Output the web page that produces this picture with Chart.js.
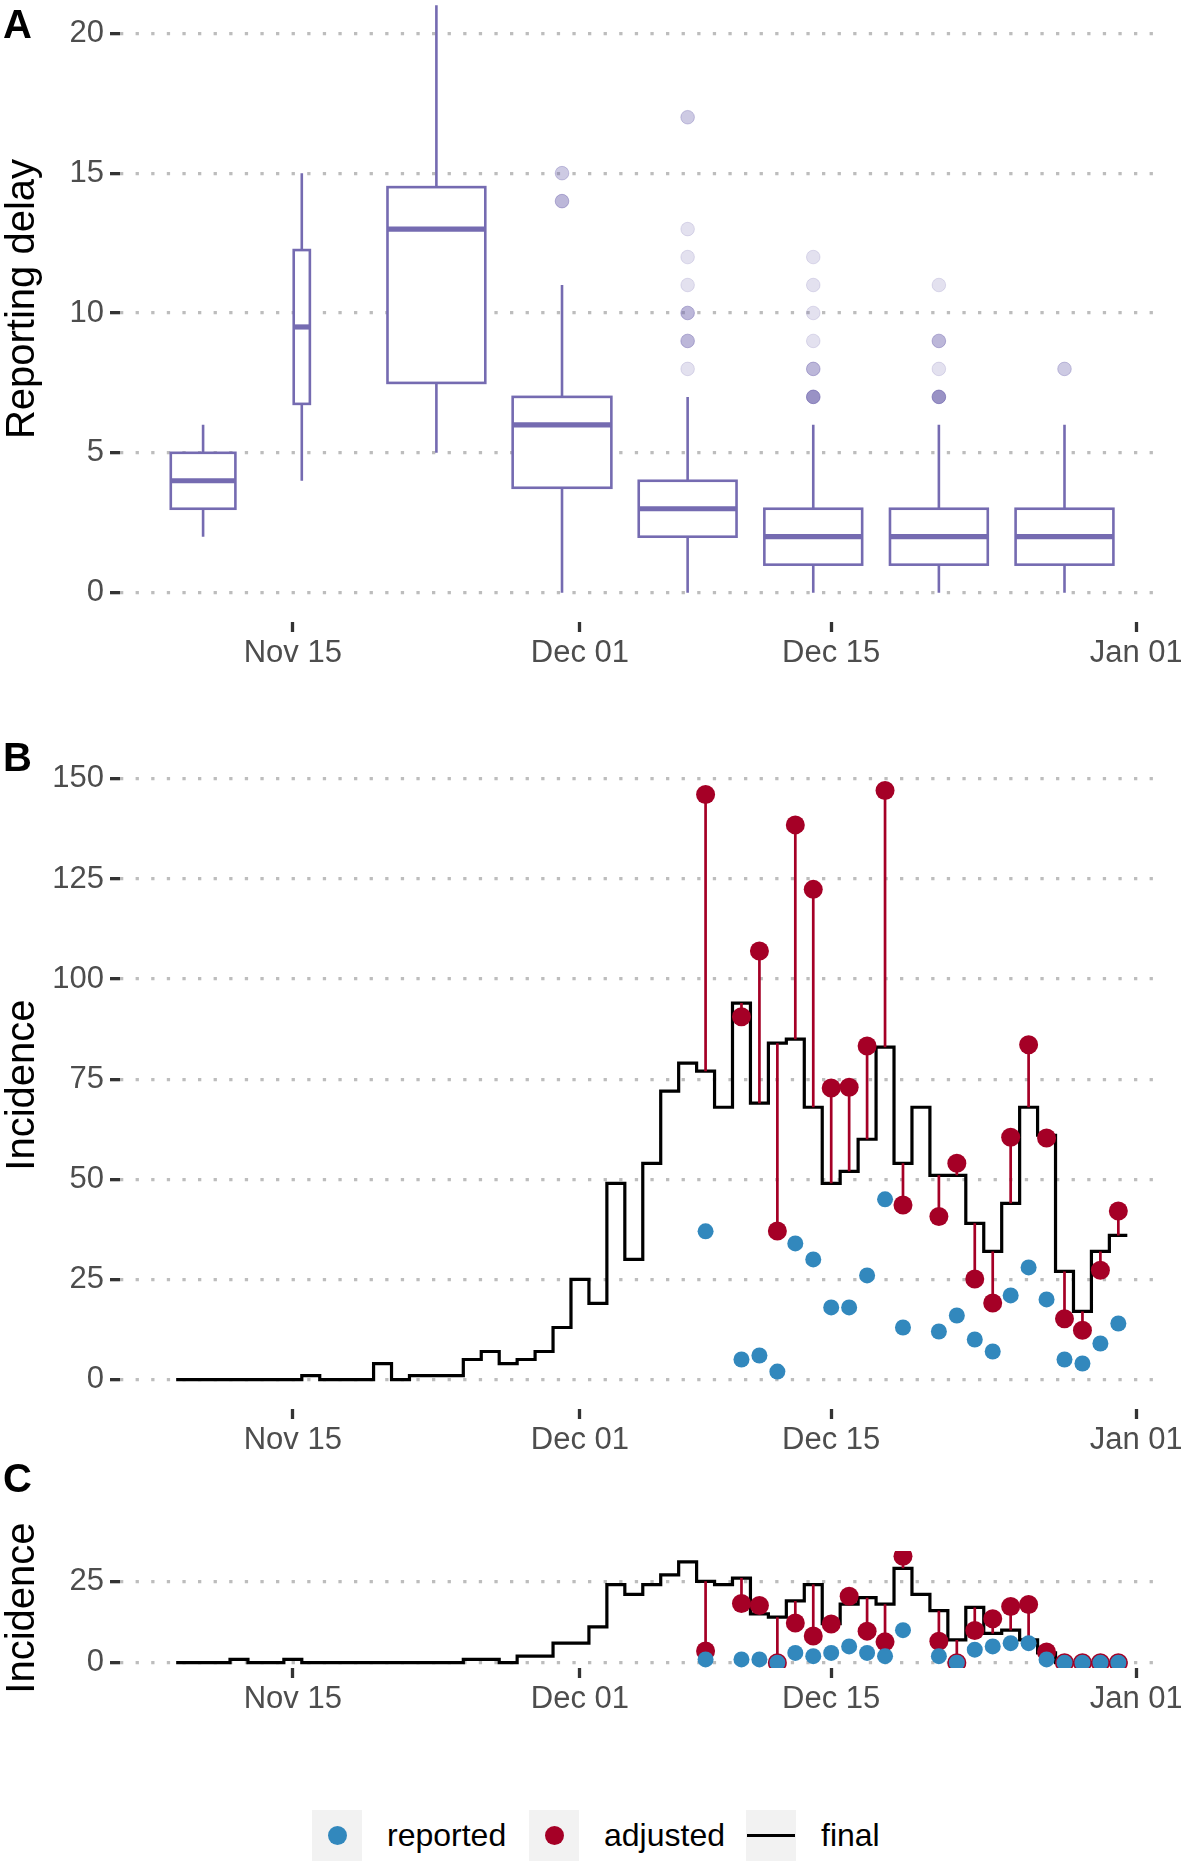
<!DOCTYPE html>
<html>
<head>
<meta charset="utf-8">
<script src="https://cdn.jsdelivr.net/npm/chart.js@4.4.1/dist/chart.umd.min.js"></script>
<style>
html, body { margin: 0; padding: 0; background: #fff; }
#page { position: relative; width: 1181px; height: 1863px; overflow: hidden; font-family: "Liberation Sans", Arial, sans-serif; }
canvas { position: absolute; left: 0; }
.tag { position: absolute; left: 3px; font-size: 40px; font-weight: bold; line-height: 40px; color: #000; }
.ytitle { position: absolute; left: -180px; width: 400px; height: 40px; line-height: 40px; text-align: center; font-size: 40px; color: #000; transform: rotate(-90deg); white-space: nowrap; }
.legend { position: absolute; top: 1810px; left: 0; width: 1181px; height: 51px; }
.key { position: absolute; top: 0; width: 50px; height: 51px; background: #f2f2f2; }
.dot { position: absolute; left: 15.5px; top: 16px; width: 19px; height: 19px; border-radius: 50%; }
.bar { position: absolute; left: 1px; top: 24px; width: 48px; height: 3.2px; background: #000; }
.lbl { position: absolute; top: 0; line-height: 51px; font-size: 32px; color: #000; }
</style>
</head>
<body>
<div id="page">
  <canvas id="chartA" width="1181" height="706" style="top:-24px"></canvas>
  <canvas id="chartB" width="1181" height="708" style="top:761px"></canvas>
  <canvas id="chartC" width="1181" height="177" style="top:1551px"></canvas>
  <div class="tag" style="top:4px">A</div>
  <div class="tag" style="top:737px">B</div>
  <div class="tag" style="top:1458px">C</div>
  <div class="ytitle" style="top:279px">Reporting delay</div>
  <div class="ytitle" style="top:1065px">Incidence</div>
  <div class="ytitle" style="top:1588px">Incidence</div>
  <div class="legend">
    <div class="key" style="left:312px"><div class="dot" style="background:#3288bd"></div></div>
    <div class="lbl" style="left:387px">reported</div>
    <div class="key" style="left:529px"><div class="dot" style="background:#a50026"></div></div>
    <div class="lbl" style="left:604px">adjusted</div>
    <div class="key" style="left:746px"><div class="bar"></div></div>
    <div class="lbl" style="left:821px">final</div>
  </div>
</div>
<script>
// x axis: days counted from Nov 01 (day 0)
const tickDays = [14, 30, 44, 61];
const tickLabels = ['Nov 15', 'Dec 01', 'Dec 15', 'Jan 01'];

// A: reporting delay boxplots
const boxDays = [9, 14.5, 22, 29, 36, 43, 50, 57];
const boxWidths = [3.6, 0.9, 5.45, 5.5, 5.45, 5.45, 5.45, 5.45];
const boxLow = [2, 4, 5, 0, 0, 0, 0, 0];
const boxQ1 = [3, 6.75, 7.5, 3.75, 2, 1, 1, 1];
const boxMid = [4, 9.5, 13, 6, 3, 2, 2, 2];
const boxQ3 = [5, 12.25, 14.5, 7, 4, 3, 3, 3];
const boxHigh = [6, 15, 21, 11, 7, 6, 6, 6];
const outlierDays = [29, 29, 36, 36, 36, 36, 36, 36, 36, 43, 43, 43, 43, 43, 43, 50, 50, 50, 50, 57];
const outlierDelays = [15, 14, 17, 13, 12, 11, 10, 9, 8, 12, 11, 10, 9, 8, 7, 11, 9, 8, 7, 8];
const outlierCounts = [2, 3, 2, 1, 1, 1, 3, 3, 1, 1, 1, 1, 1, 3, 6, 1, 3, 1, 6, 2];

// B and C: daily incidence
const days = [8, 9, 10, 11, 12, 13, 14, 15, 16, 17, 18, 19, 20, 21, 22, 23, 24, 25, 26, 27, 28, 29, 30,
  31, 32, 33, 34, 35, 36, 37, 38, 39, 40, 41, 42, 43, 44, 45, 46, 47, 48, 49, 50, 51, 52, 53, 54, 55,
  56, 57, 58, 59, 60];
const finalB = [0, 0, 0, 0, 0, 0, 0, 1, 0, 0, 0, 4, 0, 1, 1, 1, 5, 7, 4, 5, 7, 13, 25,
  19, 49, 30, 54, 72, 79, 77, 68, 94, 69, 84, 85, 68, 49, 52, 60, 83, 54, 68, 51, 51, 39, 32, 44, 68,
  61, 27, 17, 32, 36];
const finalC = [0, 0, 0, 1, 0, 0, 1, 0, 0, 0, 0, 0, 0, 0, 0, 0, 1, 1, 0, 2, 2, 6, 6,
  11, 24, 21, 24, 27, 31, 25, 24, 26, 15, 14, 19, 24, 12, 18, 20, 18, 29, 21, 16, 7, 17, 9, 10, 7,
  3, 0, 0, 0, 0];
const obsDays = [37, 39, 40, 41, 42, 43, 44, 45, 46, 47, 48, 50, 51, 52, 53, 54, 55, 56, 57, 58, 59, 60];
const reportedB = [37, 5, 6, 2, 34, 30, 18, 18, 26, 45, 13, 12, 16, 10, 7, 21, 28, 20, 5, 4, 9, 14];
const adjustedB = [146.1, 90.6, 107, 37.1, 138.5, 122.4, 72.8, 73, 83.3, 147.1, 43.6, 40.7, 54, 25.1, 19.1, 60.5, 83.6, 60.3, 15.2, 12.3, 27.3, 42.1];
const reportedC = [1, 1, 1, 0, 3, 2, 3, 5, 3, 2, 10, 2, 0, 4, 5, 6, 6, 1, 0, 0, 0, 0];
const adjustedC = [3.6, 18.2, 17.6, 0, 12.2, 8.2, 11.9, 20.4, 9.7, 6.4, 32.7, 6.6, 0, 9.9, 13.5, 17.3, 17.9, 3.3, 0, 0, 0, 0];

const FONT = "'Liberation Sans', Arial, sans-serif";
const PURPLE = '#756bb1';
const BLUE = '#3288bd';
const RED = '#a50026';
Chart.defaults.font.family = FONT;

function expand(vals) {
  const lo = Math.min(...vals), hi = Math.max(...vals);
  const pad = (hi - lo) * 0.05;
  return [lo - pad, hi + pad];
}

function xScale() {
  return {
    type: 'linear', min: 4.37, max: 62.6, offset: false,
    afterBuildTicks: s => { s.ticks = tickDays.map(v => ({ value: v })); },
    afterFit: s => { s.height = 60; s.paddingLeft = 0; s.paddingRight = 0; },
    ticks: {
      callback: v => tickLabels[tickDays.indexOf(v)],
      font: { size: 31, lineHeight: 1 }, color: '#4d4d4d', padding: 6,
      maxRotation: 0, autoSkip: false
    },
    grid: { drawOnChartArea: false, tickLength: 10, tickColor: '#333', tickWidth: 3.3, tickBorderDash: [], offset: false },
    border: { display: false }
  };
}

function yScale(range, ticks) {
  return {
    type: 'linear', min: range[0], max: range[1],
    afterBuildTicks: s => { s.ticks = ticks.map(v => ({ value: v })); },
    afterFit: s => { s.width = 120; s.paddingTop = 0; s.paddingBottom = 0; },
    ticks: { font: { size: 31 }, color: '#4d4d4d', padding: 6 },
    grid: { color: '#bdbdbd', lineWidth: 3.3, tickLength: 10, tickColor: '#333', tickWidth: 3.3, tickBorderDash: [] },
    border: { display: false, dash: [3.3, 12.3] }
  };
}

function baseOptions(yRange, yTicks) {
  return {
    responsive: false, animation: false,
    layout: { autoPadding: false, padding: { left: 0, right: 16, top: 0, bottom: 0 } },
    plugins: { legend: { display: false }, tooltip: { enabled: false } },
    scales: { x: xScale(), y: yScale(yRange, yTicks) }
  };
}

// boxplots drawn with the chart's own scales
const boxPlugin = {
  id: 'boxes',
  beforeDatasetsDraw(chart) {
    const { ctx, chartArea: a, scales: { x, y } } = chart;
    ctx.save();
    ctx.beginPath();
    ctx.rect(a.left, a.top, a.width, a.height);
    ctx.clip();
    ctx.strokeStyle = PURPLE;
    boxDays.forEach((d, i) => {
      const xc = x.getPixelForValue(d);
      const x0 = x.getPixelForValue(d - boxWidths[i] / 2);
      const x1 = x.getPixelForValue(d + boxWidths[i] / 2);
      const yLo = y.getPixelForValue(boxLow[i]);
      const yQ1 = y.getPixelForValue(boxQ1[i]);
      const yMd = y.getPixelForValue(boxMid[i]);
      const yQ3 = y.getPixelForValue(boxQ3[i]);
      const yHi = y.getPixelForValue(boxHigh[i]);
      ctx.lineWidth = 2.6;
      ctx.beginPath();
      ctx.moveTo(xc, yQ3); ctx.lineTo(xc, yHi);
      ctx.moveTo(xc, yQ1); ctx.lineTo(xc, yLo);
      ctx.stroke();
      ctx.fillStyle = '#fff';
      ctx.fillRect(x0, yQ3, x1 - x0, yQ1 - yQ3);
      ctx.strokeRect(x0, yQ3, x1 - x0, yQ1 - yQ3);
      ctx.lineWidth = 5.2;
      ctx.beginPath();
      ctx.moveTo(x0, yMd); ctx.lineTo(x1, yMd);
      ctx.stroke();
    });
    ctx.restore();
  }
};

const outlierColors = outlierCounts.map(n => 'rgba(117,107,177,' + (1 - Math.pow(0.8, n)).toFixed(3) + ')');

new Chart(document.getElementById('chartA'), {
  type: 'scatter',
  data: {
    datasets: [{
      data: outlierDays.map((d, i) => ({ x: d, y: outlierDelays[i] })),
      pointRadius: 6.8,
      pointBackgroundColor: outlierColors,
      pointBorderColor: outlierColors,
      pointBorderWidth: 1
    }]
  },
  options: baseOptions(expand(boxLow.concat(boxHigh)), [0, 5, 10, 15, 20]),
  plugins: [boxPlugin]
});

function stepPoints(values) {
  const pts = days.map((d, i) => ({ x: d, y: values[i] }));
  pts.unshift({ x: days[0] - 0.5, y: values[0] });
  pts.push({ x: days[days.length - 1] + 0.5, y: values[values.length - 1] });
  return pts;
}

function stemPoints(finalVals, adjVals) {
  const pts = [];
  obsDays.forEach((d, i) => {
    pts.push({ x: d, y: finalVals[days.indexOf(d)] }, { x: d, y: adjVals[i] }, { x: d, y: null });
  });
  return pts;
}

function incidenceChart(id, finalVals, reported, adjusted, yTicks) {
  const all = finalVals.concat(reported, adjusted);
  new Chart(document.getElementById(id), {
    type: 'line',
    data: {
      datasets: [
        {
          label: 'reported', type: 'scatter', order: 0,
          data: obsDays.map((d, i) => ({ x: d, y: reported[i] })),
          pointRadius: 8, pointBackgroundColor: BLUE, pointBorderWidth: 0
        },
        {
          label: 'adjusted', type: 'scatter', order: 1,
          data: obsDays.map((d, i) => ({ x: d, y: adjusted[i] })),
          pointRadius: 9.5, pointBackgroundColor: RED, pointBorderWidth: 0
        },
        {
          label: 'stems', order: 2,
          data: stemPoints(finalVals, adjusted),
          borderColor: RED, borderWidth: 2.7, pointRadius: 0, spanGaps: false
        },
        {
          label: 'final', order: 3,
          data: stepPoints(finalVals),
          stepped: 'middle', borderColor: '#000', borderWidth: 3.2, pointRadius: 0,
          borderJoinStyle: 'miter'
        }
      ]
    },
    options: baseOptions(expand(all), yTicks)
  });
}

incidenceChart('chartB', finalB, reportedB, adjustedB, [0, 25, 50, 75, 100, 125, 150]);
incidenceChart('chartC', finalC, reportedC, adjustedC, [0, 25]);
</script>
</body>
</html>
